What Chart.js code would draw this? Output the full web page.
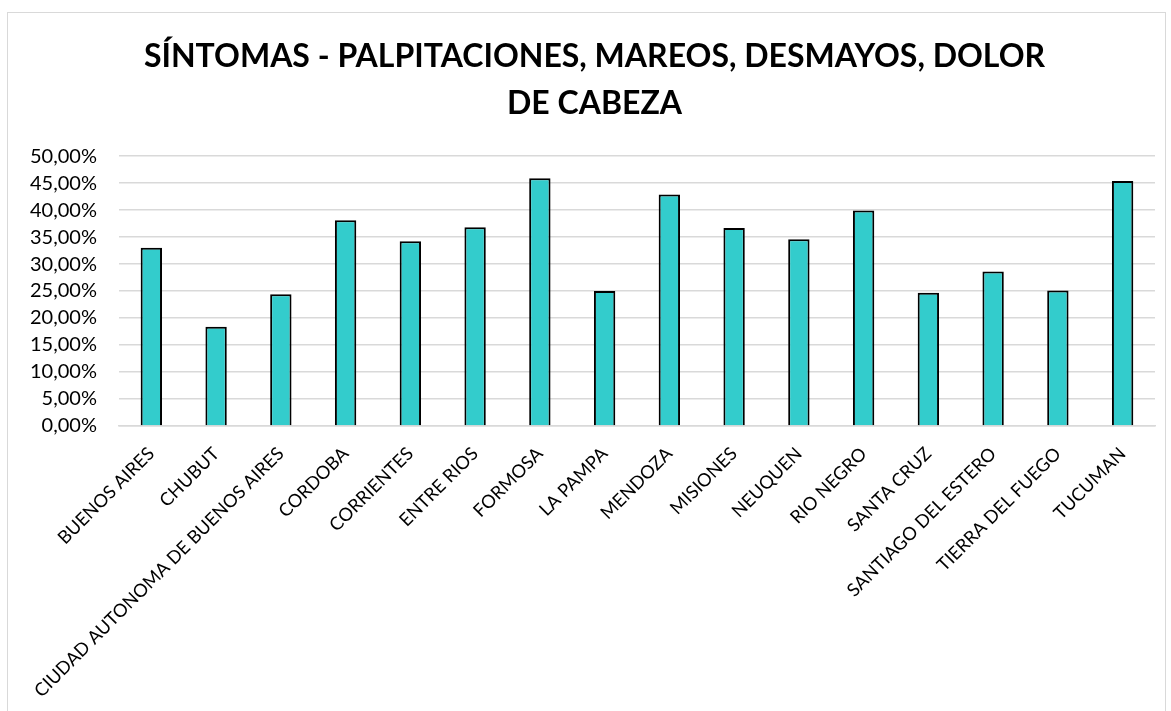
<!DOCTYPE html>
<html>
<head>
<meta charset="utf-8">
<script src="https://cdn.jsdelivr.net/npm/chart.js@4.4.1/dist/chart.umd.min.js"></script>
<style>
  html, body { margin: 0; padding: 0; background: #ffffff; }
  #wrap { position: relative; width: 1171px; height: 711px; overflow: hidden; }
  #frame { position: absolute; left: 7px; top: 12px; width: 1157px; height: 760px; border: 1px solid #d9d9d9; pointer-events: none; }
  canvas { position: absolute; left: 0; top: 0; }
</style>
</head>
<body>
<div id="wrap">
  <canvas id="c" width="1171" height="711"></canvas>
  <div id="frame"></div>
</div>
<script>
const titleLines = ["SÍNTOMAS - PALPITACIONES, MAREOS, DESMAYOS, DOLOR", "DE CABEZA"];
const categories = ["BUENOS AIRES", "CHUBUT", "CIUDAD AUTONOMA DE BUENOS AIRES", "CORDOBA", "CORRIENTES", "ENTRE RIOS", "FORMOSA", "LA PAMPA", "MENDOZA", "MISIONES", "NEUQUEN", "RIO NEGRO", "SANTA CRUZ", "SANTIAGO DEL ESTERO", "TIERRA DEL FUEGO", "TUCUMAN"];
const values = [0.330, 0.184, 0.244, 0.381, 0.342, 0.368, 0.459, 0.250, 0.429, 0.367, 0.346, 0.399, 0.247, 0.286, 0.251, 0.454];
const yTickMin = 0;
const yTickMax = 0.5;
const yTickStep = 0.05;

const fmtPct = v => (v * 100).toFixed(2).replace('.', ',') + '%';

const titleShift = {
  id: 'titleShift',
  afterLayout(chart) {
    const t = chart.titleBlock;
    if (t) { t.left += 13; t.right += 13; }
  }
};

new Chart(document.getElementById('c'), {
  type: 'bar',
  data: {
    labels: categories,
    datasets: [{
      data: values,
      backgroundColor: '#33CCCC',
      borderColor: '#000000',
      borderWidth: 2,
      categoryPercentage: 1.0,
      barPercentage: 0.33
    }]
  },
  plugins: [titleShift],
  options: {
    responsive: false,
    animation: false,
    devicePixelRatio: 1,
    layout: { padding: { left: 8, right: 16, top: 0, bottom: 0 } },
    plugins: {
      legend: { display: false },
      tooltip: { enabled: false },
      title: {
        display: true,
        text: titleLines,
        color: '#000000',
        font: { family: 'Lato', size: 32, weight: 'bold', lineHeight: 1.47 },
        padding: { top: 33, bottom: 29 }
      }
    },
    scales: {
      x: {
        grid: { display: false, drawTicks: false },
        border: { display: true, color: '#d9d9d9', width: 1.5 },
        afterFit: scale => { scale.height = 285; },
        ticks: {
          color: '#000000',
          font: { family: 'Lato', size: 18.2 },
          maxRotation: 45,
          minRotation: 45,
          autoSkip: false,
          padding: 17
        }
      },
      y: {
        min: yTickMin,
        max: yTickMax,
        grid: { color: '#d9d9d9', lineWidth: 1.5, drawTicks: false },
        border: { display: false },
        ticks: {
          stepSize: yTickStep,
          autoSkip: false,
          color: '#000000',
          font: { family: 'Lato', size: 20 },
          padding: 22,
          callback: v => fmtPct(v)
        }
      }
    }
  }
});
</script>
</body>
</html>
